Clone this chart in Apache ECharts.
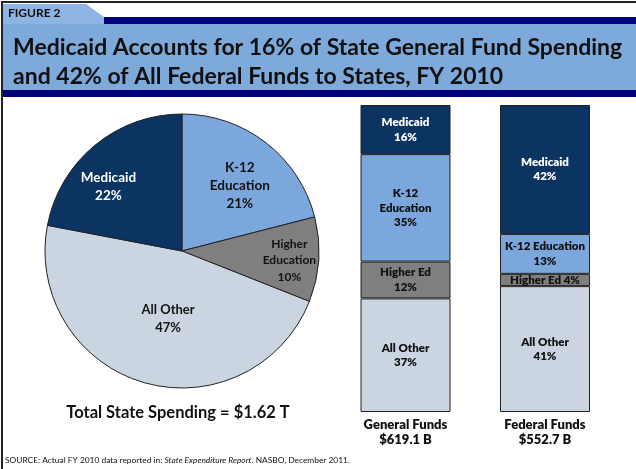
<!DOCTYPE html>
<html><head><meta charset="utf-8">
<script src="https://cdn.jsdelivr.net/npm/echarts@6/dist/echarts.min.js"></script>
<style>html,body{margin:0;padding:0;background:#fff}#c{width:636px;height:469px}</style>
</head><body><div id="c"></div>
<script>
// ---- data ----
const figureTag = 'FIGURE 2';
const titleLines = ['Medicaid Accounts for 16% of State General Fund Spending', 'and 42% of All Federal Funds to States, FY 2010'];
const pieNames = ['K-12 Education', 'Higher Education', 'All Other', 'Medicaid'];
const pieLabelNames = ['K-12\nEducation', 'Higher\nEducation', 'All Other', 'Medicaid'];
const pieValues = [21, 10, 47, 22];
const pieCaption = 'Total State Spending = $1.62 T';
const barCategories = ['General Funds', 'Federal Funds'];
const barTotals = ['$619.1 B', '$552.7 B'];
const stackNames = ['All Other', 'Higher Ed', 'K-12 Education', 'Medicaid'];
const allOther = [37, 41];
const higherEd = [12, 4];
const k12 = [35, 13];
const medicaid = [16, 42];
const allOtherLabels = ['All Other\n', 'All Other\n'];
const higherEdLabels = ['Higher Ed\n', 'Higher Ed '];
const k12Labels = ['K-12\nEducation\n', 'K-12 Education\n'];
const medicaidLabels = ['Medicaid\n', 'Medicaid\n'];
const sourceText = ['SOURCE: Actual FY 2010 data reported in: ', 'State Expenditure Report', '. NASBO, December 2011.'];

// ---- styles ----
const FONT = 'Lato';
const C_MED = '#0b3463', C_K12 = '#7ba7dc', C_HIGH = '#7f7f7f', C_OTHER = '#cbd5e1';
const pieColors = [C_K12, C_HIGH, C_OTHER, C_MED];
const pieTextColors = ['#111', '#111', '#111', '#fff'];
const pieLabelShift = [[14, -9], [36, 5], [6, -1], [-28, -9]];
const pieFontSize = [13.5, 12, 13, 13.5];

const chart = echarts.init(document.getElementById('c'), null, {renderer: 'canvas'});

function barSeries(name, values, labels, color, textColor) {
  return {
    name: name, type: 'bar', stack: 'total', data: values, barWidth: 90,
    itemStyle: {color: color, borderColor: '#222', borderWidth: 1},
    label: {
      show: true, position: 'inside', color: textColor, fontFamily: FONT,
      fontWeight: 800, fontSize: 11.5, lineHeight: 14.5,
      formatter: p => labels[p.dataIndex] + p.value + '%'
    },
    emphasis: {disabled: true}
  };
}

const option = {
  animation: false,
  backgroundColor: '#fff',
  graphic: [
    // frame
    {type: 'rect', shape: {x: 1, y: 1, width: 640, height: 2}, style: {fill: '#222'}},
    {type: 'rect', shape: {x: 1, y: 1, width: 2, height: 470}, style: {fill: '#222'}},
    // navy band top
    {type: 'rect', shape: {x: 3, y: 17, width: 640, height: 7}, style: {fill: '#00007a'}},
    // tab
    {type: 'polygon', shape: {points: [[3, 4], [86, 4], [104, 17], [104, 24], [3, 24]]}, style: {fill: '#8db4e2'}},
    // title band
    {type: 'rect', shape: {x: 3, y: 24, width: 640, height: 66}, style: {fill: '#7ea9db'}},
    {type: 'rect', shape: {x: 3, y: 90, width: 640, height: 7}, style: {fill: '#00007a'}},
    {type: 'text', x: 8, y: 13, style: {text: figureTag, font: 'bold 12px Lato', fill: '#111', verticalAlign: 'middle'}},
    {type: 'text', x: 13, y: 62, style: {text: titleLines.join('\n'), font: 'bold 23px Lato', lineHeight: 29, fill: '#111', verticalAlign: 'middle'}},
    {type: 'text', x: 178, y: 413, style: {text: pieCaption, font: 'bold 16.5px Lato', fill: '#111', align: 'center', verticalAlign: 'middle'}},
    {type: 'text', x: 5, y: 460, style: {
      text: '{n|' + sourceText[0] + '}{i|' + sourceText[1] + '}{n|' + sourceText[2] + '}',
      verticalAlign: 'middle',
      rich: {n: {font: '8.4px Lato', fill: '#111'}, i: {font: 'italic 8.4px Lato', fill: '#111'}}
    }}
  ],
  grid: {left: 335.75, right: 21.25, top: 105, height: 307, containLabel: false},
  xAxis: {
    type: 'category', data: barCategories,
    axisLine: {show: false}, axisTick: {show: false},
    axisLabel: {
      margin: 5, interval: 0, fontFamily: FONT, fontWeight: 800, fontSize: 13, color: '#111', lineHeight: 15,
      formatter: (v, i) => v + '\n' + barTotals[i]
    }
  },
  yAxis: {type: 'value', min: 0, max: 100, show: false, splitLine: {show: false}},
  series: [
    {
      type: 'pie', center: [182, 251], radius: 137, startAngle: 90, clockwise: true,
      data: pieNames.map((n, i) => ({
        name: n, value: pieValues[i],
        itemStyle: {color: pieColors[i]},
        label: {color: pieTextColors[i], fontSize: pieFontSize[i], lineHeight: pieFontSize[i] + 4.5}
      })),
      itemStyle: {borderColor: '#222', borderWidth: 1},
      label: {
        show: true, position: 'inside', fontFamily: FONT, fontWeight: 'bold',
        formatter: p => pieLabelNames[p.dataIndex] + '\n' + p.value + '%'
      },
      labelLine: {show: false},
      labelLayout: p => ({dx: pieLabelShift[p.dataIndex][0], dy: pieLabelShift[p.dataIndex][1]}),
      emphasis: {disabled: true}
    },
    barSeries(stackNames[0], allOther, allOtherLabels, C_OTHER, '#111'),
    barSeries(stackNames[1], higherEd, higherEdLabels, C_HIGH, '#111'),
    barSeries(stackNames[2], k12, k12Labels, C_K12, '#111'),
    barSeries(stackNames[3], medicaid, medicaidLabels, C_MED, '#fff')
  ]
};
chart.setOption(option);
</script>
</body></html>
